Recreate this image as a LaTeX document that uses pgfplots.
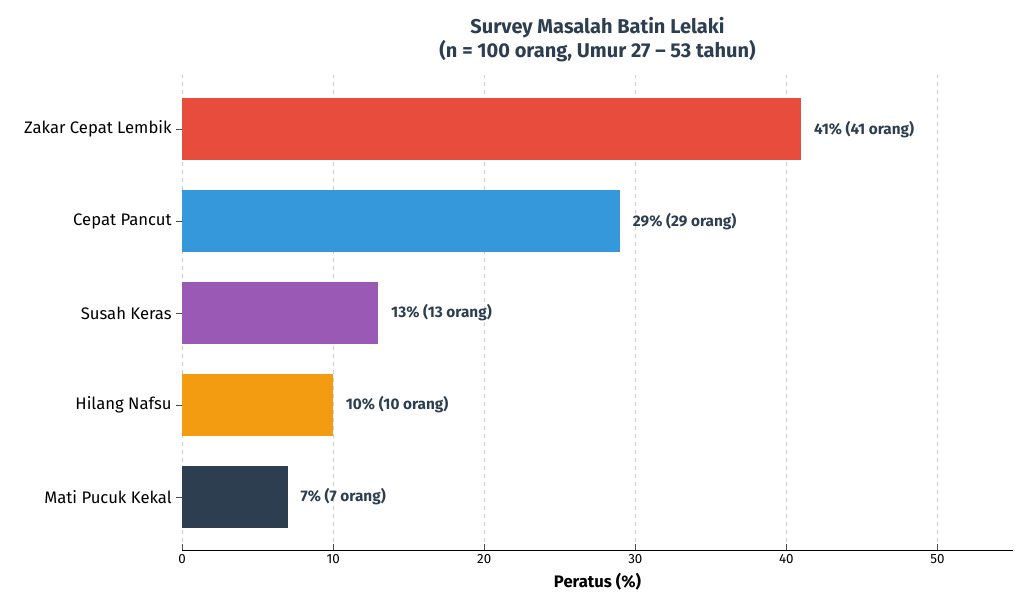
\documentclass[border=0pt]{standalone}
\usepackage{pgfplots}
\pgfplotsset{compat=1.18}
\usepackage{fontspec}
\setmainfont{Fira Sans}
\definecolor{cA}{HTML}{E74C3C}
\definecolor{cB}{HTML}{3498DB}
\definecolor{cC}{HTML}{9B59B6}
\definecolor{cD}{HTML}{F39C12}
\definecolor{cE}{HTML}{2C3E50}
\begin{document}
\begin{tikzpicture}
\begin{axis}[
  scale only axis, width=623pt, height=356pt,
  xmin=0, xmax=55, ymin=-0.576, ymax=4.59,
  xbar, bar width=0.67, bar shift=0pt,
  axis x line*=bottom, axis y line*=left,
  y axis line style={draw=none},
  xtick={0,10,20,30,40,50},
  ytick={0,1,2,3,4},
  yticklabels={Mati Pucuk Kekal,Hilang Nafsu,Susah Keras,Cepat Pancut,Zakar Cepat Lembik},
  yticklabel style={font=\fontsize{12.5}{14}\selectfont},
  xticklabel style={font=\fontsize{10}{12}\selectfont},
  /pgf/number format/assume math mode=true,
  xmajorgrids, grid style={gray!40, dashed},
  tick style={black!70},
  xlabel={\textbf{Peratus (\%)}},
  xlabel style={font=\fontsize{12.5}{14}\selectfont},
  title={\textbf{Survey Masalah Batin Lelaki}\\\textbf{(n = 100 orang, Umur 27 – 53 tahun)}},
  title style={align=center, font=\fontsize{15}{18}\selectfont, text=cE},
  point meta=explicit symbolic,
  nodes near coords,
  nodes near coords style={font=\bfseries\fontsize{11.5}{13}\selectfont, text=cE, anchor=west, xshift=6pt},
  clip=false,
]
\addplot[fill=cA, draw=none] coordinates {(41,4) [41\% (41 orang)]};
\addplot[fill=cB, draw=none] coordinates {(29,3) [29\% (29 orang)]};
\addplot[fill=cC, draw=none] coordinates {(13,2) [13\% (13 orang)]};
\addplot[fill=cD, draw=none] coordinates {(10,1) [10\% (10 orang)]};
\addplot[fill=cE, draw=none] coordinates {(7,0) [7\% (7 orang)]};
\end{axis}
\pgfresetboundingbox
\path (current axis.south west) ++(-136.5pt,-45pt) coordinate (a);
\path (current axis.north east) ++(8.25pt,56.25pt) coordinate (b);
\path[use as bounding box] (a) rectangle (b);
\end{tikzpicture}
\end{document}
